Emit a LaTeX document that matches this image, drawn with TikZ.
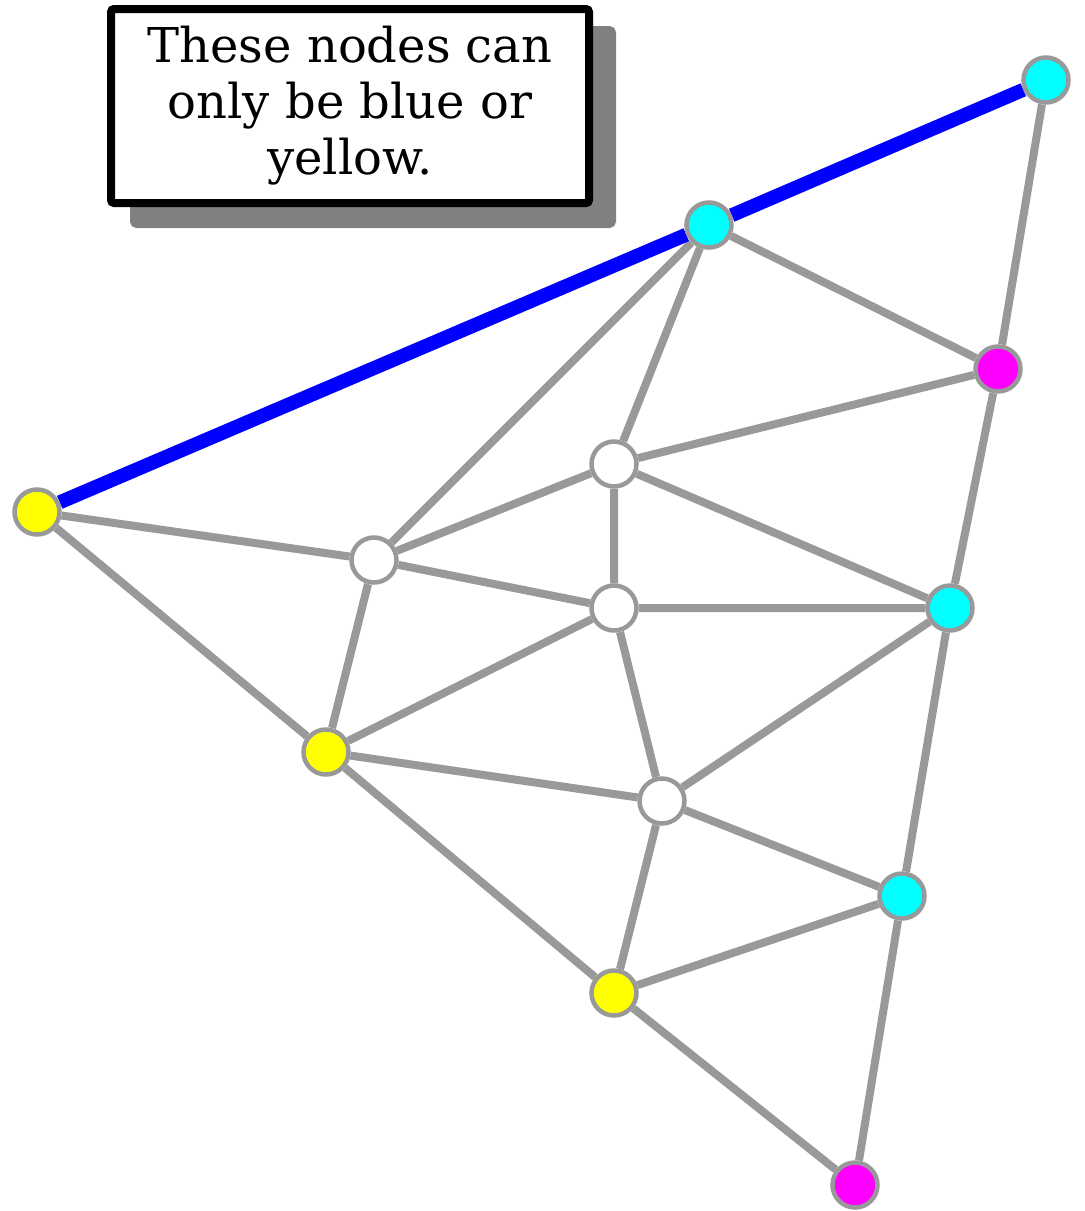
\documentclass[tikz,border=0pt]{standalone}
\usepackage{fontspec}
\setmainfont{DejaVu Serif}
\usetikzlibrary{backgrounds,shadows}
\definecolor{edgegray}{HTML}{999999}
\definecolor{cyanc}{HTML}{00FFFF}
\definecolor{magc}{HTML}{FF00FF}
\definecolor{yelc}{HTML}{FFFF00}
\begin{document}
\begin{tikzpicture}[x=1pt,y=-1pt,
  vert/.style={circle,draw=edgegray,line width=4.5pt,minimum size=45pt,inner sep=0pt},
  edge/.style={draw=edgegray,line width=8pt},
  blueedge/.style={draw=blue,line width=14pt}]
\useasboundingbox (0,0) rectangle (1085,1211);
\node[vert,fill=yelc] (A) at (37,512) {};
\node[vert,fill=cyanc] (B) at (709,225) {};
\node[vert,fill=cyanc] (C) at (1046,80) {};
\node[vert,fill=magc] (D) at (998,369) {};
\node[vert,fill=white] (E) at (614,464) {};
\node[vert,fill=white] (F) at (374,560) {};
\node[vert,fill=white] (G) at (614,608) {};
\node[vert,fill=cyanc] (H) at (950,608) {};
\node[vert,fill=yelc] (I) at (326,752) {};
\node[vert,fill=white] (J) at (662,801) {};
\node[vert,fill=cyanc] (K) at (902,896) {};
\node[vert,fill=yelc] (L) at (614,993) {};
\node[vert,fill=magc] (M) at (855,1185) {};
\begin{scope}[on background layer]
\draw[edge] (A)--(F) (A)--(I)
  (B)--(F) (B)--(E) (B)--(D)
  (C)--(D) (D)--(E) (D)--(H)
  (E)--(F) (E)--(G) (E)--(H)
  (F)--(G) (F)--(I)
  (G)--(H) (G)--(I) (G)--(J)
  (H)--(J) (H)--(K)
  (I)--(J) (I)--(L)
  (J)--(K) (J)--(L)
  (K)--(L) (K)--(M) (L)--(M);
\draw[blueedge] (A)--(B) (B)--(C);
\end{scope}
\node[draw=black,line width=8pt,fill=white,rounded corners=3pt,
  minimum width=478pt,minimum height=194pt,align=center,
  font=\fontsize{48}{56}\selectfont,
  drop shadow={shadow xshift=23pt,shadow yshift=-21pt,fill=gray,draw=gray,line width=8pt,opacity=1}]
  (note) at (350,106) {These nodes can\\only be blue or\\yellow.};
\end{tikzpicture}
\end{document}
